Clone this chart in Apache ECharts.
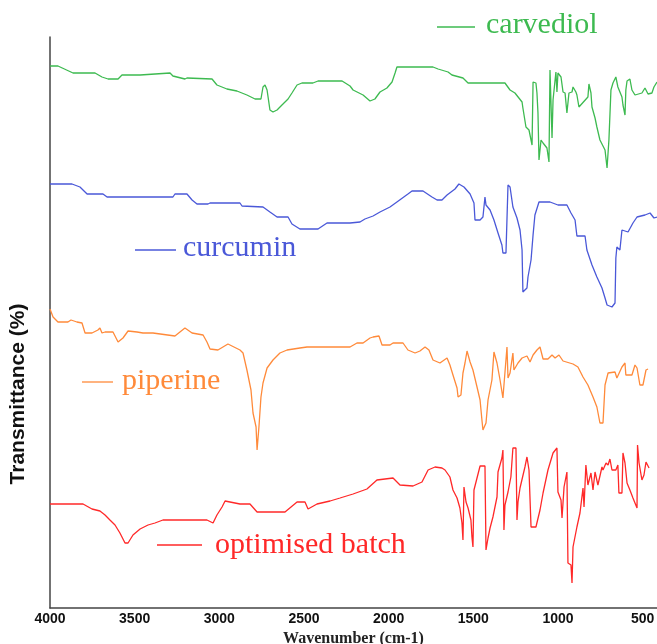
<!DOCTYPE html>
<html>
<head>
<meta charset="utf-8">
<script src="https://cdn.jsdelivr.net/npm/echarts@6/dist/echarts.min.js"></script>
<style>
html,body{margin:0;padding:0;background:#fff;}
#chart{width:657px;height:644px;}
</style>
</head>
<body>
<div id="chart"></div>
<script>
// Wavenumber (cm-1) tick labels
const xTicks = [4000, 3500, 3000, 2500, 2000, 1500, 1000, 500];
const seriesNames = ['carvediol', 'curcumin', 'piperine', 'optimised batch'];

// [wavenumber, transmittance (arbitrary, offset stacked units)]
const carvediol = [[4000,542],[3953,542],[3864,535],[3734,535],[3693,531],[3657,529],[3598,529],[3575,533],[3468,533],[3457,535],[3291,535],[3274,532],[3203,529],[3191,530],[3043,529],[3014,523],[2955,519],[2896,517],[2837,513],[2789,509],[2754,509],[2742,521],[2730,523],[2718,518],[2701,498],[2683,496],[2659,498],[2630,503],[2594,509],[2571,515],[2541,523],[2512,525],[2447,525],[2417,527],[2275,527],[2228,522],[2210,518],[2151,513],[2110,507],[2081,509],[2051,516],[2010,520],[1980,526],[1962,535],[1951,541],[1738,541],[1708,539],[1649,536],[1626,533],[1561,530],[1531,525],[1313,525],[1283,518],[1254,515],[1212,506],[1207,500],[1189,481],[1171,478],[1153,463],[1147,526],[1130,525],[1124,515],[1118,495],[1112,448],[1100,468],[1088,465],[1065,460],[1053,446],[1047,538],[1035,470],[1029,508],[1012,536],[1006,516],[1000,535],[982,531],[970,516],[958,515],[947,495],[935,515],[917,516],[911,521],[894,516],[888,513],[876,501],[823,511],[817,524],[805,515],[799,501],[781,490],[770,481],[752,468],[722,458],[710,440],[699,468],[687,518],[675,525],[658,531],[646,521],[622,511],[616,503],[604,493],[599,518],[592,527],[575,529],[563,518],[545,513],[504,515],[486,520],[468,514],[445,515],[433,521],[415,526]];

const curcumin = [[4000,424],[3870,424],[3823,421],[3781,414],[3687,414],[3663,411],[3274,411],[3262,414],[3191,414],[3161,408],[3132,404],[3067,404],[3055,405],[2878,405],[2866,402],[2742,401],[2701,396],[2659,391],[2594,391],[2571,384],[2524,379],[2417,379],[2364,385],[2228,385],[2169,386],[2140,389],[2092,392],[2051,396],[1992,401],[1951,406],[1886,414],[1862,417],[1797,417],[1744,411],[1714,408],[1685,408],[1655,413],[1608,419],[1585,424],[1555,421],[1519,414],[1496,405],[1490,388],[1460,388],[1443,391],[1431,411],[1425,403],[1401,398],[1378,388],[1354,375],[1331,363],[1325,355],[1307,355],[1295,423],[1283,421],[1266,401],[1242,390],[1224,378],[1212,358],[1207,316],[1183,320],[1177,331],[1159,348],[1147,373],[1136,393],[1112,406],[1047,406],[1000,403],[947,403],[923,395],[899,388],[888,372],[840,372],[829,358],[799,343],[770,331],[740,320],[722,310],[710,303],[681,301],[663,305],[658,350],[652,361],[634,358],[622,378],[586,376],[557,385],[533,391],[486,393],[456,395],[433,390],[415,391]];

const piperine = [[4000,299],[3982,291],[3953,286],[3894,286],[3876,288],[3841,286],[3811,285],[3793,275],[3752,275],[3717,278],[3705,280],[3693,275],[3675,276],[3628,276],[3598,266],[3569,270],[3539,277],[3486,276],[3451,275],[3392,275],[3262,272],[3203,280],[3161,275],[3096,273],[3073,266],[3055,259],[3008,258],[2949,264],[2878,258],[2860,255],[2837,238],[2813,218],[2801,195],[2783,181],[2777,158],[2766,181],[2754,211],[2742,225],[2718,240],[2683,248],[2642,255],[2600,258],[2524,260],[2482,261],[2228,261],[2187,265],[2151,265],[2110,270],[2092,271],[2057,272],[2039,263],[1992,263],[1974,265],[1915,265],[1886,258],[1844,255],[1815,257],[1785,261],[1762,258],[1738,248],[1697,245],[1655,250],[1638,243],[1620,233],[1596,220],[1590,211],[1573,213],[1561,235],[1549,245],[1537,257],[1519,246],[1502,238],[1478,221],[1460,208],[1449,188],[1443,178],[1425,185],[1413,208],[1390,228],[1378,256],[1360,245],[1342,228],[1325,210],[1301,261],[1295,230],[1283,235],[1266,255],[1260,238],[1236,245],[1212,250],[1183,252],[1165,246],[1147,253],[1124,258],[1106,261],[1088,249],[1059,249],[1035,253],[1017,250],[994,253],[970,247],[911,244],[882,241],[852,231],[823,223],[793,211],[770,201],[752,185],[734,185],[722,223],[704,235],[663,236],[652,230],[622,241],[604,245],[599,233],[563,233],[545,243],[533,240],[516,223],[498,223],[480,238],[468,239]];

const optimisedBatch = [[4000,104],[3805,104],[3752,99],[3705,97],[3675,93],[3646,88],[3616,83],[3587,75],[3557,65],[3539,65],[3510,73],[3468,79],[3421,83],[3380,85],[3333,88],[3073,88],[3037,85],[3014,93],[2984,101],[2966,107],[2937,106],[2878,104],[2819,104],[2777,96],[2612,96],[2541,106],[2494,106],[2476,99],[2423,104],[2346,107],[2287,110],[2210,114],[2128,119],[2069,128],[1974,130],[1933,123],[1856,122],[1803,126],[1767,138],[1726,141],[1685,140],[1667,138],[1638,131],[1620,118],[1596,110],[1579,100],[1567,85],[1561,68],[1555,121],[1543,106],[1531,100],[1514,88],[1508,71],[1502,61],[1496,118],[1478,130],[1460,142],[1431,142],[1425,58],[1413,70],[1401,80],[1384,91],[1360,111],[1354,136],[1331,150],[1325,158],[1319,78],[1313,103],[1295,116],[1278,131],[1266,160],[1248,160],[1242,88],[1236,106],[1224,120],[1195,141],[1183,151],[1171,138],[1159,81],[1130,81],[1106,98],[1088,115],[1059,138],[1029,155],[1006,160],[1000,116],[982,108],[976,90],[964,121],[947,136],[941,45],[923,43],[917,25],[911,61],[888,81],[870,95],[852,120],[846,101],[835,143],[823,123],[805,135],[793,118],[781,136],[764,123],[740,141],[734,138],[716,145],[704,143],[693,149],[681,138],[658,138],[646,143],[640,115],[622,115],[616,155],[604,145],[592,125],[575,118],[557,110],[533,100],[530,163],[521,145],[504,128],[492,133],[480,146],[462,140]];

const colors = ['#3dba50', '#4a58d8', '#ff8a3a', '#ff2828'];
const allData = [carvediol, curcumin, piperine, optimisedBatch];

const chart = echarts.init(document.getElementById('chart'), null, {renderer: 'canvas'});

function legendItem(i, x1, x2, ly, tx, ty) {
  return [
    {type: 'line', shape: {x1: x1, y1: ly, x2: x2, y2: ly}, style: {stroke: colors[i], lineWidth: 1.3}},
    {type: 'text', x: tx, y: ty, style: {text: seriesNames[i], fill: colors[i], font: '30px "Liberation Serif", "Times New Roman", serif', verticalAlign: 'top', align: 'left'}}
  ];
}

const option = {
  animation: false,
  backgroundColor: '#fff',
  grid: {left: 50, right: 0, top: 37, bottom: 36, containLabel: false, outerBoundsMode: 'none'},
  xAxis: {
    type: 'value', inverse: true, min: 415, max: 4000,
    name: 'Wavenumber (cm-1)', nameLocation: 'middle', nameGap: 19,
    nameTextStyle: {fontFamily: '"Liberation Serif", serif', fontWeight: 'bold', fontSize: 16, color: '#222'},
    axisLine: {show: true, lineStyle: {color: '#444', width: 1.5}},
    axisTick: {show: false},
    splitLine: {show: false},
    axisLabel: {customValues: xTicks, formatter: v => String(v), margin: 4, fontFamily: '"Liberation Sans", Arial, sans-serif', fontWeight: 'bold', fontSize: 14, color: '#111'}
  },
  yAxis: {
    type: 'value', min: 0, max: 571,
    axisLine: {show: true, lineStyle: {color: '#444', width: 1.5}},
    axisTick: {show: false},
    axisLabel: {show: false},
    splitLine: {show: false}
  },
  series: allData.map((d, i) => ({
    name: seriesNames[i], type: 'line', data: d, showSymbol: false, symbol: 'none',
    lineStyle: {color: colors[i], width: 1.3}, z: 2
  })),
  graphic: [].concat(
    [{type: 'text', x: 18, y: 394, rotation: Math.PI / 2,
      style: {text: 'Transmittance (%)', fill: '#111', font: 'bold 21px "Liberation Sans", Arial, sans-serif', align: 'center', verticalAlign: 'middle'}}],
    legendItem(0, 437, 475, 27, 486, 10),
    legendItem(1, 135, 176, 250, 183, 233),
    legendItem(2, 82, 113, 382, 122, 366),
    legendItem(3, 157, 202, 545, 215, 530)
  )
};
chart.setOption(option);
</script>
</body>
</html>
